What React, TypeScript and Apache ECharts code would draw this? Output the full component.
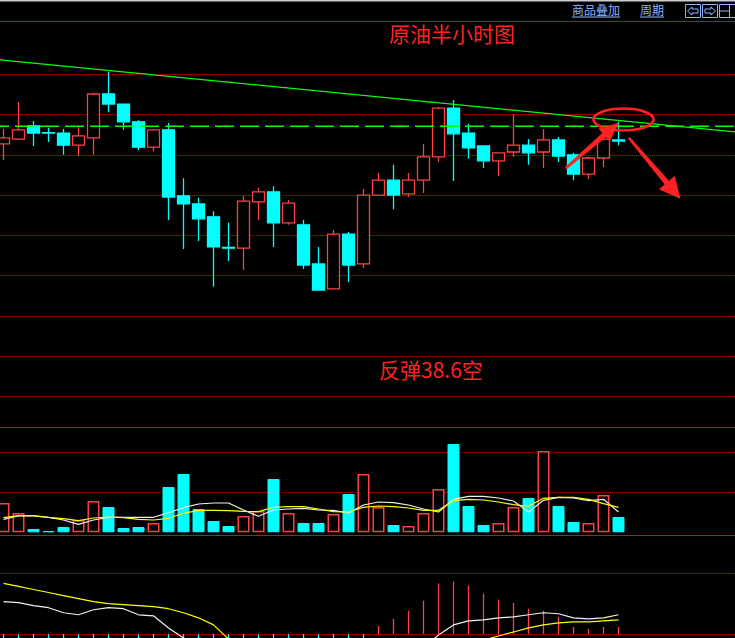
import React, { useEffect, useRef } from "react";
import * as echarts from "echarts";

// ---------- data ----------
const categories = [
  "09:00", "09:30", "10:00", "10:30", "11:00", "11:30", "12:00", "12:30", "13:00", "13:30",
  "14:00", "14:30", "15:00", "15:30", "16:00", "16:30", "17:00", "17:30", "18:00", "18:30",
  "19:00", "19:30", "20:00", "20:30", "21:00", "21:30", "22:00", "22:30", "23:00", "23:30",
  "00:00", "00:30", "01:00", "01:30", "02:00", "02:30", "03:00", "03:30", "04:00", "04:30",
  "05:00", "05:30",
];
const emptySlots = ["06:00", "06:30", "07:00", "07:30", "08:00", "08:30", "09:00+", "09:30+"];

// [open, close, low, high]
const candles = [
  [38.627, 38.642, 38.587, 38.664],
  [38.639, 38.662, 38.637, 38.731],
  [38.672, 38.654, 38.622, 38.684],
  [38.655, 38.654, 38.632, 38.667],
  [38.654, 38.624, 38.600, 38.664],
  [38.624, 38.647, 38.597, 38.669],
  [38.642, 38.751, 38.600, 38.754],
  [38.751, 38.726, 38.706, 38.806],
  [38.726, 38.682, 38.662, 38.726],
  [38.682, 38.619, 38.612, 38.686],
  [38.619, 38.662, 38.609, 38.664],
  [38.662, 38.495, 38.438, 38.679],
  [38.498, 38.478, 38.366, 38.542],
  [38.478, 38.441, 38.386, 38.493],
  [38.446, 38.371, 38.272, 38.460],
  [38.370, 38.368, 38.336, 38.431],
  [38.368, 38.485, 38.314, 38.498],
  [38.483, 38.508, 38.438, 38.518],
  [38.508, 38.431, 38.371, 38.522],
  [38.431, 38.480, 38.426, 38.488],
  [38.426, 38.326, 38.316, 38.438],
  [38.329, 38.264, 38.264, 38.371],
  [38.267, 38.403, 38.267, 38.413],
  [38.403, 38.326, 38.284, 38.408],
  [38.329, 38.500, 38.319, 38.515],
  [38.500, 38.537, 38.500, 38.555],
  [38.537, 38.500, 38.465, 38.575],
  [38.503, 38.537, 38.495, 38.555],
  [38.537, 38.595, 38.505, 38.627],
  [38.595, 38.716, 38.582, 38.719],
  [38.716, 38.652, 38.535, 38.736],
  [38.654, 38.617, 38.590, 38.677],
  [38.622, 38.585, 38.567, 38.622],
  [38.585, 38.605, 38.547, 38.605],
  [38.607, 38.624, 38.595, 38.701],
  [38.624, 38.605, 38.575, 38.639],
  [38.607, 38.637, 38.567, 38.664],
  [38.637, 38.597, 38.582, 38.644],
  [38.600, 38.552, 38.537, 38.605],
  [38.552, 38.592, 38.540, 38.595],
  [38.592, 38.639, 38.570, 38.657],
  [38.637, 38.634, 38.624, 38.682],
];

const volumes = [
  2930, 1930, 330, 130, 530, 1230, 3130, 2530, 430, 530,
  930, 4530, 5830, 2330, 1130, 630, 1630, 2130, 5330, 1930,
  930, 930, 1830, 3830, 5830, 2530, 730, 630, 1930, 4330,
  8830, 2630, 730, 930, 2530, 3430, 8130, 2630, 1030, 930,
  3730, 1530,
];
const volMa5 = [
  1300, 1630, 1630, 1500, 1230, 800, 1230, 1500, 1500, 1500,
  1500, 1960, 2460, 2830, 2930, 2930, 2230, 1600, 2230, 2330,
  2400, 2230, 2200, 1930, 2730, 3030, 2960, 2730, 2330, 2030,
  3300, 3600, 3600, 3430, 3130, 2030, 3200, 3500, 3430, 3160,
  3300, 2030,
];
const volMa10 = [
  1460, 1660, 1660, 1500, 1360, 1160, 1430, 1530, 1460, 1300,
  1230, 1400, 1900, 2200, 2200, 2160, 2100, 2060, 2500, 2560,
  2560, 2330, 2060, 2030, 2500, 2630, 2560, 2430, 2200, 2200,
  3160, 3300, 3230, 3030, 2760, 2600, 3400, 3500, 3500, 3300,
  2860, 2500,
];

const dif = [
  0.032, 0.031, 0.028, 0.026, 0.021, 0.019, 0.024, 0.026, 0.025, 0.019,
  0.018, 0.006, -0.004, -0.015, -0.028, -0.038, -0.042, -0.045, -0.050, -0.052,
  -0.058, -0.065, -0.062, -0.060, -0.052, -0.040, -0.032, -0.024, -0.014, -0.001,
  0.009, 0.013, 0.014, 0.016, 0.017, 0.019, 0.021, 0.020, 0.016, 0.015,
  0.016, 0.019,
];
const dea = [
  0.050, 0.047, 0.044, 0.041, 0.038, 0.035, 0.032, 0.030, 0.029, 0.028,
  0.027, 0.025, 0.021, 0.016, 0.009, -0.005, -0.012, -0.019, -0.025, -0.030,
  -0.036, -0.042, -0.046, -0.048, -0.047, -0.044, -0.040, -0.036, -0.031, -0.026,
  -0.017, -0.011, -0.006, -0.002, 0.002, 0.006, 0.009, 0.011, 0.012, 0.012,
  0.013, 0.014,
];
const macdHist = [
  -0.036, -0.032, -0.032, -0.030, -0.034, -0.032, -0.016, -0.008, -0.008, -0.018,
  -0.018, -0.038, -0.050, -0.062, -0.074, -0.066, -0.060, -0.052, -0.050, -0.044,
  -0.044, -0.046, -0.032, -0.024, -0.010, 0.008, 0.015, 0.023, 0.033, 0.050,
  0.052, 0.048, 0.040, 0.034, 0.031, 0.025, 0.023, 0.017, 0.007, 0.005,
  0.007, 0.007,
];

// price-pane levels (grid lines every 0.1)
const priceMin = 37.9;
const priceMax = 38.9;
const priceStep = 0.1;
// hand drawn trend line (slot position, price) and dashed resistance level
const trendLine = [
  [-0.233, 38.836],
  [48.767, 38.657],
];
const resistanceLine = [
  [-0.233, 38.671],
  [48.767, 38.671],
];

const titleText = "原油半小时图";
const noteText = "反弹38.6空";
const headerLinks = ["商品叠加", "周期"];

// ---------- styles ----------
const UP = "#ff4040";
const DOWN = "#00ffff";
const GRID = "#a80000";
const SEP = "#c41414";
const LINK = "#8ab4ff";
const NOTE = "#ff2222";
const CJK = '"Noto Sans CJK SC", "Noto Sans", sans-serif';

function buildOption() {
  const axisData = [...categories, ...emptySlots];
  const hiddenParts = {
    axisLine: { show: false },
    axisTick: { show: false },
    axisLabel: { show: false },
  };
  const dotted = (show: boolean) => ({
    show,
    showMinLine: false,
    showMaxLine: false,
    lineStyle: { color: GRID, type: [1, 1], width: 1 },
  });

  const upItem = { color: "#000000", borderColor: UP, borderWidth: 1.5 };
  const downItem = { color: DOWN, borderColor: DOWN, borderWidth: 1 };

  const volumeData = volumes.map((v, i) => ({
    value: v,
    itemStyle: candles[i][1] >= candles[i][0] ? upItem : downItem,
  }));
  const histData = macdHist.map((v) => ({
    value: v,
    itemStyle: { color: v >= 0 ? UP : DOWN },
  }));

  const arrow = (pts: number[][]) => ({
    type: "polygon",
    z: 100,
    silent: true,
    shape: { points: pts },
    style: { fill: NOTE, stroke: NOTE, lineWidth: 0.8 },
  });

  const graphic: any[] = [
    { type: "rect", silent: true, shape: { x: 0, y: 0, width: 735, height: 1.5 }, style: { fill: "#cfcfcf" } },
    { type: "line", silent: true, shape: { x1: 0, y1: 21.5, x2: 735, y2: 21.5 }, style: { stroke: "#b41414", lineWidth: 1 } },
    { type: "line", silent: true, shape: { x1: 0, y1: 427.5, x2: 735, y2: 427.5 }, style: { stroke: SEP, lineWidth: 1 } },
    { type: "line", silent: true, shape: { x1: 0, y1: 535.5, x2: 735, y2: 535.5 }, style: { stroke: SEP, lineWidth: 1 } },
    // header links
    { type: "text", silent: true, style: { text: headerLinks[0], x: 572, y: 3, fill: LINK, font: `12px ${CJK}`, verticalAlign: "top" } },
    { type: "line", silent: true, shape: { x1: 572, y1: 17, x2: 620, y2: 17 }, style: { stroke: LINK, lineWidth: 1 } },
    { type: "text", silent: true, style: { text: headerLinks[1], x: 640, y: 3, fill: LINK, font: `12px ${CJK}`, verticalAlign: "top" } },
    { type: "line", silent: true, shape: { x1: 640, y1: 17, x2: 664, y2: 17 }, style: { stroke: LINK, lineWidth: 1 } },
    // header buttons
    { type: "rect", silent: true, shape: { x: 685.5, y: 4.5, width: 15, height: 13 }, style: { fill: "none", stroke: LINK, lineWidth: 1 } },
    { type: "polygon", silent: true, shape: { points: [[687.5, 11], [692, 7], [692, 9], [698, 9], [698, 13], [692, 13], [692, 15]] }, style: { fill: "none", stroke: LINK, lineWidth: 1 } },
    { type: "rect", silent: true, shape: { x: 702.5, y: 4.5, width: 15, height: 13 }, style: { fill: "none", stroke: LINK, lineWidth: 1 } },
    { type: "polygon", silent: true, shape: { points: [[715.5, 11], [711, 7], [711, 9], [705, 9], [705, 13], [711, 13], [711, 15]] }, style: { fill: "none", stroke: LINK, lineWidth: 1 } },
    { type: "rect", silent: true, shape: { x: 719.5, y: 4.5, width: 16, height: 13 }, style: { fill: "none", stroke: LINK, lineWidth: 1 } },
    { type: "line", silent: true, shape: { x1: 729.5, y1: 4.5, x2: 729.5, y2: 17.5 }, style: { stroke: LINK, lineWidth: 1 } },
    { type: "line", silent: true, shape: { x1: 719.5, y1: 11, x2: 729.5, y2: 11 }, style: { stroke: LINK, lineWidth: 1 } },
    // titles
    { type: "text", z: 100, silent: true, style: { text: titleText, x: 389, y: 23, fill: NOTE, font: `21px ${CJK}`, verticalAlign: "top" } },
    { type: "text", z: 100, silent: true, style: { text: noteText, x: 379, y: 359, fill: NOTE, font: `21px ${CJK}`, verticalAlign: "top" } },
    // annotations
    {
      type: "ellipse",
      z: 100,
      silent: true,
      shape: { cx: 623.5, cy: 119.5, rx: 30, ry: 11 },
      style: { fill: "none", stroke: NOTE, lineWidth: 2.6 },
    },
    arrow([[566.7, 168.8], [606.0, 136.7], [609.5, 141.0], [618.3, 123.3], [599.0, 128.8], [602.8, 132.9], [565.3, 167.2]]),
    arrow([[628.2, 138.6], [665.1, 184.4], [659.5, 189.2], [680, 198.3], [674.5, 176.5], [668.9, 181.2], [629.8, 137.4]]),
  ];

  return {
    animation: false,
    backgroundColor: "#000000",
    graphic,
    grid: [
      { left: -4, width: 750, top: 34.05, height: 402.5, outerBoundsMode: "none", containLabel: false },
      { left: -4, width: 750, top: 412.3, height: 120, outerBoundsMode: "none", containLabel: false },
      { left: -4, width: 750, top: 512.6, height: 182.1, outerBoundsMode: "none", containLabel: false },
    ],
    xAxis: [
      { type: "category", gridIndex: 0, data: axisData, show: false },
      { type: "category", gridIndex: 1, data: axisData, show: false },
      { type: "category", gridIndex: 2, data: axisData, show: false },
      { type: "value", gridIndex: 0, min: -0.5, max: 49.5, show: false },
    ],
    yAxis: [
      { type: "value", gridIndex: 0, min: priceMin, max: priceMax, interval: priceStep, ...hiddenParts, splitLine: dotted(true) },
      { type: "value", gridIndex: 1, min: 0, max: 12000, interval: 4000, ...hiddenParts, splitLine: dotted(true) },
      { type: "value", gridIndex: 2, min: -0.06, max: 0.12, interval: 0.06, ...hiddenParts, splitLine: dotted(true) },
    ],
    series: [
      {
        type: "candlestick",
        xAxisIndex: 0,
        yAxisIndex: 0,
        barWidth: 12,
        data: candles,
        itemStyle: {
          color: "#000000",
          color0: DOWN,
          borderColor: UP,
          borderColor0: DOWN,
          borderWidth: 1.3,
        },
      },
      {
        type: "line",
        xAxisIndex: 3,
        yAxisIndex: 0,
        data: trendLine,
        symbol: "none",
        silent: true,
        lineStyle: { color: "#00ff00", width: 1.3 },
      },
      {
        type: "line",
        xAxisIndex: 3,
        yAxisIndex: 0,
        data: resistanceLine,
        symbol: "none",
        silent: true,
        lineStyle: { color: "#00ff00", width: 1.5, type: [19, 6], dashOffset: 10 },
      },
      {
        type: "bar",
        xAxisIndex: 1,
        yAxisIndex: 1,
        barWidth: 12,
        data: volumeData,
      },
      {
        type: "line",
        xAxisIndex: 1,
        yAxisIndex: 1,
        data: volMa5,
        symbol: "none",
        lineStyle: { color: "#f0f0f0", width: 1.2 },
      },
      {
        type: "line",
        xAxisIndex: 1,
        yAxisIndex: 1,
        data: volMa10,
        symbol: "none",
        lineStyle: { color: "#ffff00", width: 1.2 },
      },
      {
        type: "bar",
        xAxisIndex: 2,
        yAxisIndex: 2,
        barWidth: 1.3,
        data: histData,
      },
      {
        type: "line",
        xAxisIndex: 2,
        yAxisIndex: 2,
        data: dif,
        symbol: "none",
        lineStyle: { color: "#f0f0f0", width: 1.2 },
      },
      {
        type: "line",
        xAxisIndex: 2,
        yAxisIndex: 2,
        data: dea,
        symbol: "none",
        lineStyle: { color: "#ffff00", width: 1.2 },
      },
    ],
  };
}

export default function App() {
  const ref = useRef<HTMLDivElement>(null);
  useEffect(() => {
    document.body.style.margin = "0";
    document.body.style.background = "#000";
    document.body.style.overflow = "hidden";
    const chart = echarts.init(ref.current as HTMLDivElement, undefined, { renderer: "svg" });
    chart.setOption(buildOption() as any);
    return () => {
      chart.dispose();
    };
  }, []);
  return <div ref={ref} style={{ width: 735, height: 638, background: "#000" }} />;
}
